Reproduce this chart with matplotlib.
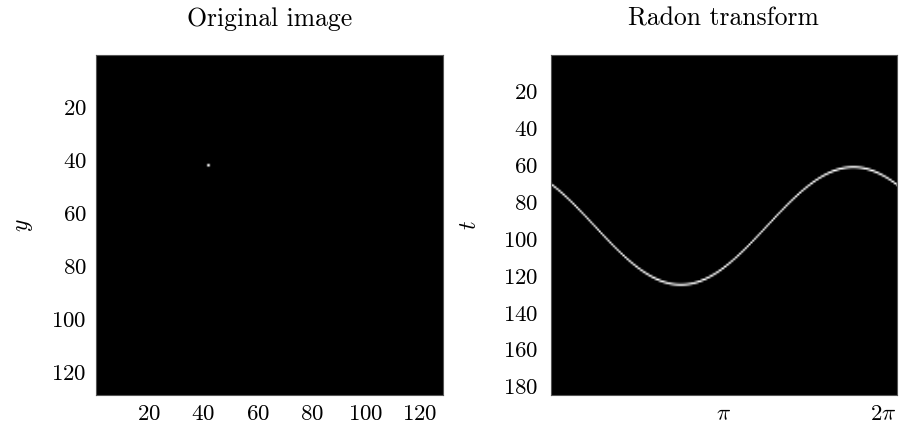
import numpy as np
import matplotlib
matplotlib.use("Agg")
import matplotlib.pyplot as plt

plt.rcParams['font.family'] = 'serif'
plt.rcParams['font.serif'] = ['cmr10']
plt.rcParams['mathtext.fontset'] = 'cm'
plt.rcParams['axes.formatter.use_mathtext'] = True

# image: a single bright point on a black square
img_size = 128
point_row, point_col = 41, 41
point_value = 1.0
n_offsets = 184          # number of t bins in the sinogram
n_angles = 360

img_ticks = [20, 40, 60, 80, 100, 120]
t_ticks = [20, 40, 60, 80, 100, 120, 140, 160, 180]
theta_ticks = [np.pi, 2 * np.pi]
theta_labels = [r'$\pi$', r'$2\pi$']

image = np.zeros((img_size, img_size))
image[point_row, point_col] = point_value

# discrete radon transform: project every pixel onto the t axis
theta = np.linspace(0, 2 * np.pi, n_angles)
sino = np.zeros((n_offsets, n_angles))
c = (img_size - 1) / 2
rows, cols = np.nonzero(image)
for r, cl in zip(rows, cols):
    v = image[r, cl]
    t = n_offsets / 2 + (cl - c) * np.cos(theta) + (c - r) * np.sin(theta)
    i0 = np.floor(t).astype(int)
    w = t - i0
    for j in range(n_angles):
        sino[i0[j], j] += v * (1 - w[j])
        sino[i0[j] + 1, j] += v * w[j]

fig = plt.figure(figsize=(9.01, 4.29), dpi=100)
ax1 = fig.add_axes([0.107, 0.0793, 0.3846, 0.7925])
ax2 = fig.add_axes([0.6112, 0.0793, 0.384, 0.7925])

ax1.imshow(image, cmap='gray', aspect='auto', vmin=0, vmax=1.1,
           extent=(0.5, img_size + 0.5, img_size + 0.5, 0.5))
ax1.set_xticks(img_ticks)
ax1.set_yticks(img_ticks)
ax1.set_title('Original image', fontsize=18.5, pad=21)
ax1.set_ylabel('$y$', fontsize=17, labelpad=12)

ax2.imshow(sino, cmap='gray', aspect='auto', vmin=0, vmax=0.85,
           extent=(0, 2 * np.pi, n_offsets + 0.5, 0.5), interpolation='bilinear')
ax2.set_xticks(theta_ticks)
ax2.set_xticklabels(theta_labels)
ax2.get_xticklabels()[-1].set_ha('right')
ax2.set_yticks(t_ticks)
ax2.set_title('Radon transform', fontsize=18.5, pad=21)
ax2.set_ylabel('$t$', fontsize=17, labelpad=16)

for ax in (ax1, ax2):
    ax.tick_params(length=0, labelsize=16.5, pad=7)
    for s in ax.spines.values():
        s.set_color('#555555')
ax2.tick_params(axis='y', pad=9)

fig.savefig('out.png', dpi=100)
